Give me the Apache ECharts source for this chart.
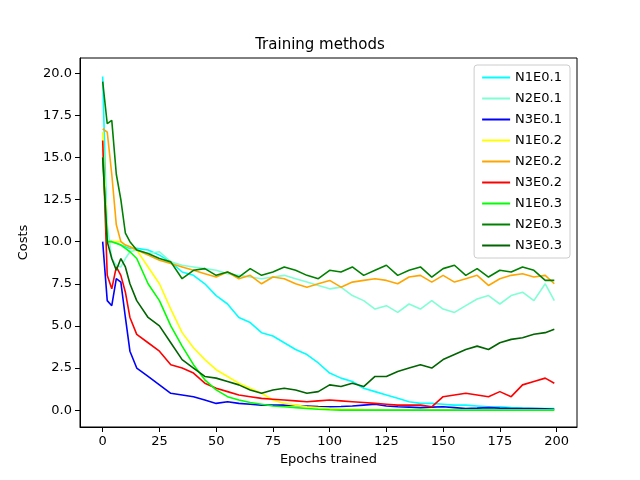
<!DOCTYPE html>
<html>
<head>
<meta charset="utf-8">
<script src="https://cdn.jsdelivr.net/npm/echarts@6/dist/echarts.min.js"></script>
<style>html,body{margin:0;background:#fff}#chart{width:640px;height:480px}</style>
</head>
<body>
<div id="chart"></div>
<script>
var epochs = [0,2,4,6,8,10,12,15,20,25,30,35,40,45,50,55,60,65,70,75,80,85,90,95,100,105,110,115,120,125,130,135,140,145,150,155,160,165,170,175,180,185,190,195,199];

var n1e01 = [19.8,10,10,9.9,9.8,9.7,9.6,9.6,9.5,9.2,8.8,8.2,8.0,7.5,6.8,6.3,5.5,5.2,4.6,4.4,4.0,3.6,3.3,2.8,2.2,1.9,1.7,1.3,1.1,0.9,0.7,0.5,0.4,0.4,0.35,0.3,0.3,0.25,0.2,0.2,0.15,0.12,0.1,0.1,0.1];
var n2e01 = [15.5,11,9,8.6,8.5,9.0,9.4,9.5,9.3,9.4,8.8,8.6,8.5,8.4,8.3,8.1,8.0,7.9,7.8,7.9,8.0,7.8,7.6,7.4,7.2,7.3,6.8,6.5,6.0,6.2,5.8,6.3,6.0,6.5,6.0,5.8,6.2,6.6,6.8,6.3,6.8,7.0,6.5,7.5,6.5];
var n3e01 = [10,6.5,6.2,7.8,7.6,5.5,3.5,2.5,2.0,1.5,1.0,0.9,0.8,0.6,0.4,0.5,0.4,0.35,0.3,0.3,0.3,0.28,0.25,0.22,0.2,0.22,0.25,0.3,0.35,0.25,0.2,0.18,0.15,0.18,0.2,0.15,0.1,0.12,0.15,0.12,0.1,0.1,0.1,0.08,0.05];
var n1e02 = [16.5,10,10,10,10,9.8,9.7,9.5,8.5,7.5,6.0,4.6,3.7,3.0,2.4,2.0,1.6,1.3,1.0,0.6,0.4,0.3,0.2,0.15,0.1,0.07,0.05,0.03,0.02,0.01,0,0,0,0,0,0,0,0,0,0,0,0,0,0,0];
var n2e02 = [16.7,16.5,14,11,10,9.8,9.7,9.5,9.2,8.9,8.7,8.5,8.3,8.1,7.9,8.2,7.8,8.0,7.5,7.9,7.8,7.5,7.3,7.5,7.7,7.3,7.6,7.7,7.8,7.7,7.5,7.9,8.0,7.6,8.0,7.6,7.8,8.0,7.4,7.8,8.0,8.1,7.9,8.0,7.5];
var n3e02 = [16,8,7.2,8.5,8.0,7.0,5.5,4.5,4.0,3.5,2.7,2.5,2.2,1.6,1.3,1.1,0.9,0.8,0.7,0.65,0.6,0.55,0.5,0.55,0.6,0.55,0.5,0.45,0.4,0.35,0.3,0.3,0.3,0.2,0.8,0.9,1.0,0.9,0.8,1.1,0.8,1.5,1.7,1.9,1.6];
var n1e03 = [15,10,10,9.9,9.8,9.6,9.4,9.0,7.5,6.5,5.0,3.8,2.7,1.8,1.2,0.8,0.6,0.45,0.35,0.25,0.2,0.15,0.1,0.05,0.02,0,0,0,0,0,0,0,0,0,0,0,0,0,0,0,0,0,0,0,0];
var n2e03 = [19.5,17,17.2,14,12.5,10.5,10,9.5,9.3,9.0,8.8,7.8,8.3,8.4,8.0,8.2,7.9,8.4,8.0,8.2,8.5,8.3,8.0,7.8,8.3,8.2,8.5,8.0,8.3,8.6,8.0,8.3,8.5,7.9,8.4,8.6,8.0,8.4,7.9,8.3,8.2,8.5,8.3,7.7,7.7];
var n3e03 = [15,10,9.0,8.3,9.0,8.5,7.5,6.5,5.5,5.0,4.0,3.0,2.5,2.0,1.9,1.7,1.5,1.2,1.0,1.2,1.3,1.2,1.0,1.1,1.5,1.4,1.6,1.4,2.0,2.0,2.3,2.5,2.7,2.5,3.0,3.3,3.6,3.8,3.6,4.0,4.2,4.3,4.5,4.6,4.8];

var xTicks = [0,25,50,75,100,125,150,175,200];
var yTicks = [0,2.5,5,7.5,10,12.5,15,17.5,20];

var names = ['N1E0.1','N2E0.1','N3E0.1','N1E0.2','N2E0.2','N3E0.2','N1E0.3','N2E0.3','N3E0.3'];
var colors = ['#00ffff','#7fffd4','#0000ff','#ffff00','#ffa500','#ff0000','#00ff00','#008000','#006400'];
var values = [n1e01,n2e01,n3e01,n1e02,n2e02,n3e02,n1e03,n2e03,n3e03];

function pairs(v){
	return epochs.map(function(e,i){ return [e, v[i]]; });
}

var myChart = echarts.init(document.getElementById('chart'));
var font = 'DejaVu Sans';
var option = {
	animation: false,
	title: {text: 'Training methods', left: 'center', top: 33,
		textStyle: {fontFamily: font, fontSize: 15, fontWeight: 'normal', color: '#000'}},
	grid: {left: 80, right: 63, top: 58, bottom: 53, show: true, borderColor: '#000', borderWidth: 1},
	legend: {
		orient: 'vertical', right: 70, top: 65, data: names,
		icon: 'rect', itemWidth: 28, itemHeight: 2, itemGap: 8,
		textStyle: {fontFamily: font, fontSize: 13, color: '#000'},
		borderColor: '#ccc', borderWidth: 1, borderRadius: 3, padding: [6, 8, 6, 8],
		backgroundColor: 'rgba(255,255,255,0.8)'
	},
	xAxis: {
		type: 'value', min: -10, max: 209,
		name: 'Epochs trained', nameLocation: 'middle', nameGap: 26,
		nameTextStyle: {fontFamily: font, fontSize: 13, color: '#000'},
		axisLine: {show: true, onZero: false, lineStyle: {color: '#000'}},
		axisTick: {show: true, customValues: xTicks, lineStyle: {color: '#000'}},
		axisLabel: {customValues: xTicks, fontFamily: font, fontSize: 13, color: '#000'},
		splitLine: {show: false}
	},
	yAxis: {
		type: 'value', min: -1, max: 20.9,
		name: 'Costs', nameLocation: 'middle', nameGap: 50,
		nameTextStyle: {fontFamily: font, fontSize: 13, color: '#000'},
		axisLine: {show: true, onZero: false, lineStyle: {color: '#000'}},
		axisTick: {show: true, customValues: yTicks, lineStyle: {color: '#000'}},
		axisLabel: {customValues: yTicks, fontFamily: font, fontSize: 13, color: '#000',
			formatter: function(v){ return v.toFixed(1); }},
		splitLine: {show: false}
	},
	series: names.map(function(n, i){
		return {
			name: n, type: 'line', data: pairs(values[i]), showSymbol: false,
			color: colors[i], lineStyle: {width: 1.6, color: colors[i]}
		};
	})
};
myChart.setOption(option);
</script>
</body>
</html>
